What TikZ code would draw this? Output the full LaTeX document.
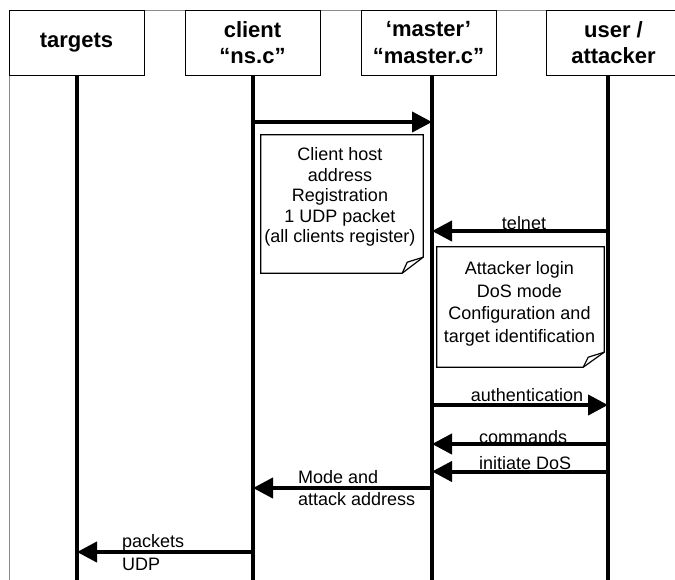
\documentclass[tikz,border=0pt]{standalone}
\usepackage{fontspec}
\setmainfont{Liberation Sans}
\usetikzlibrary{arrows.meta}
\begin{document}
\begin{tikzpicture}[x=1pt,y=-1pt,
  frame/.style={draw=black!45, line width=0.8pt},
  hdr/.style={draw=black, line width=0.9pt, fill=white, minimum width=135pt,
    minimum height=65pt, inner sep=0pt, align=center,
    font=\fontsize{22}{26.5}\selectfont\bfseries},
  life/.style={line width=4pt},
  msg/.style={line width=4pt, line cap=round,
    -{Triangle[length=20pt,width=20pt]}},
  lbl/.style={inner sep=0pt, font=\fontsize{18}{20.7}\selectfont},
  notebox/.style={inner sep=0pt},
  noteline/.style={line width=1.2pt, line join=miter},
  notetext/.style={inner sep=0pt, align=center}]

\useasboundingbox (0,0) rectangle (675,579);

% diagram frame
\draw[frame] (9,582) -- (9,10) -- (680,10);

% participants
\node[hdr] (tg) at (76.5,42.5)  {targets};
\node[hdr] (cl) at (252.5,42.5) {client\\“ns.c”};
\node[hdr] (ma) at (428.5,42.5) {‘master’\\“master.c”};
\node[hdr] (us) at (613.5,42.5) {user /\\attacker};

% lifelines
\coordinate (tgL) at (77,75);  \coordinate (tgE) at (77,582);
\coordinate (clL) at (253,75); \coordinate (clE) at (253,582);
\coordinate (maL) at (432,75); \coordinate (maE) at (432,582);
\coordinate (usL) at (608,75); \coordinate (usE) at (608,582);
\draw[life] (tgL) -- (tgE);
\draw[life] (clL) -- (clE);
\draw[life] (maL) -- (maE);
\draw[life] (usL) -- (usE);

% message rows
\coordinate (r1) at (0,122);
\coordinate (r2) at (0,231);
\coordinate (r3) at (0,405);
\coordinate (r4) at (0,444);
\coordinate (r5) at (0,471.5);
\coordinate (r6) at (0,488);
\coordinate (r7) at (0,552);

\draw[msg] (clL |- r1) -- (maL |- r1);
\draw[msg] (usL |- r2) -- (maL |- r2);
\draw[msg] (maL |- r3) -- (usL |- r3);
\draw[msg] (usL |- r4) -- (maL |- r4);
\draw[msg] (usL |- r5) -- (maL |- r5);
\draw[msg] (maL |- r6) -- (clL |- r6);
\draw[msg] (clL |- r7) -- (tgL |- r7);

% note: client registration
\node[notebox, minimum width=162pt, minimum height=138pt] (n1) at (342,204) {};
\draw[noteline, fill=white] (n1.north west) -- (n1.north east)
  -- ([yshift=16pt]n1.south east) -- ([xshift=-21pt]n1.south east)
  -- (n1.south west) -- cycle;
\draw[noteline] ([xshift=-21pt]n1.south east) -- ([xshift=-16pt,yshift=11pt]n1.south east)
  -- ([yshift=16pt]n1.south east);
\node[notetext, font=\fontsize{18}{20.6}\selectfont] (n1t) at (340,197)
  {Client host\\address\\Registration\\1 UDP packet\\(all clients register)};

% note: attacker session
\node[notebox, minimum width=167pt, minimum height=120pt] (n2) at (520.5,307) {};
\draw[noteline, fill=white] (n2.north west) -- (n2.north east)
  -- ([yshift=15pt]n2.south east) -- ([xshift=-21pt]n2.south east)
  -- (n2.south west) -- cycle;
\draw[noteline] ([xshift=-21pt]n2.south east) -- ([xshift=-16pt,yshift=10pt]n2.south east)
  -- ([yshift=15pt]n2.south east);
\node[notetext, font=\fontsize{18}{22.5}\selectfont] (n2t) at (519.5,304)
  {Attacker login\\DoS mode\\Configuration and\\target identification};

% message labels
\node[lbl, anchor=base] (ltel) at (524,229) {telnet};
\node[lbl, anchor=base] (lauth) at (527,401) {authentication};
\node[lbl, anchor=base west] (lcmd) at (479,443) {commands};
\node[lbl, anchor=base west] (lini) at (479,469) {initiate DoS};
\node[lbl, anchor=base west] (lmodeA) at (298,483) {Mode and};
\node[lbl, anchor=base west] (lmodeB) at (298,505) {attack address};
\node[lbl, anchor=base west] (lpktA) at (122,547) {packets};
\node[lbl, anchor=base west] (lpktB) at (122,570) {UDP};
\end{tikzpicture}
\end{document}
